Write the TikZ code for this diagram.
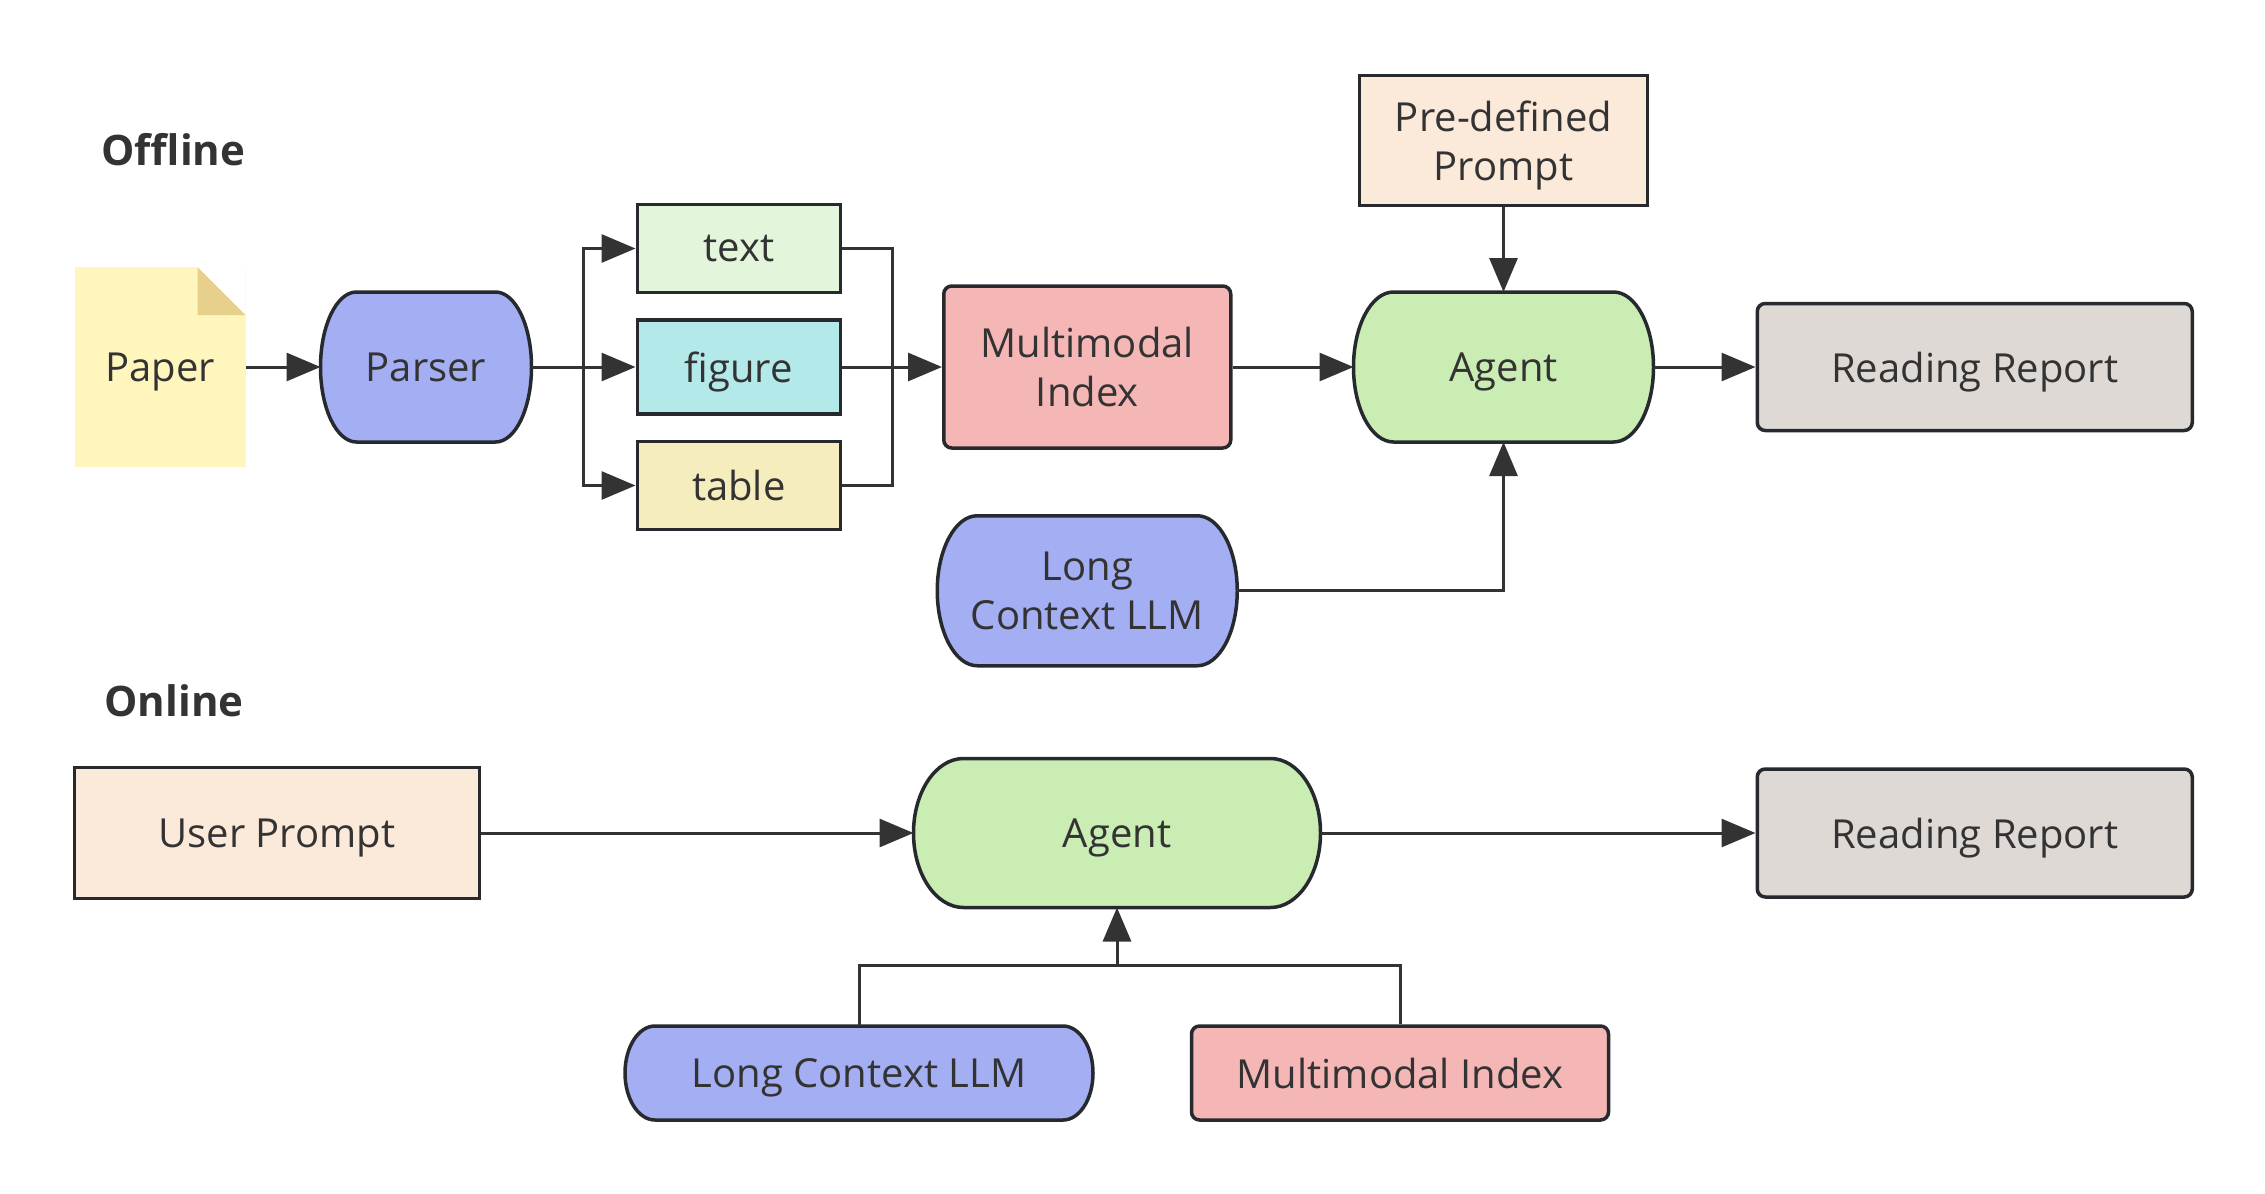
\documentclass[tikz,border=0pt]{standalone}
\usepackage{fontspec}
\setmainfont{Open Sans}
\usetikzlibrary{arrows.meta,positioning,calc,backgrounds}

\definecolor{inkgray}{HTML}{333333}
\definecolor{edgegray}{HTML}{262A2E}
\definecolor{paperyellow}{HTML}{FFF6BE}
\definecolor{paperfold}{HTML}{E6D08C}
\definecolor{parserblue}{HTML}{A4AEF2}
\definecolor{textgreen}{HTML}{E3F5DB}
\definecolor{figurecyan}{HTML}{B4E9E9}
\definecolor{tableyellow}{HTML}{F6EDBF}
\definecolor{indexred}{HTML}{F4B7B6}
\definecolor{agentgreen}{HTML}{CAEDB3}
\definecolor{promptpeach}{HTML}{FBE9DA}
\definecolor{reportgray}{HTML}{DFD9D6}

% outline with bowed sides, drawn behind a named node: node, fill, side depth
\newcommand{\termshape}[3]{%
  \draw[edgegray, line width=1.75pt, fill=#2]
    let \p1=(#1.north west), \p2=(#1.south east), \n1={(\y1-\y2)/2} in
    (\x1+#3,\y1) -- (\x2-#3,\y1)
    arc[start angle=90, end angle=-90, x radius=#3, y radius=\n1]
    -- (\x1+#3,\y2)
    arc[start angle=270, end angle=90, x radius=#3, y radius=\n1] -- cycle;}

\begin{document}
\begin{tikzpicture}[
  x=0.5pt, y=-0.5pt,
  font=\fontsize{20}{24.5}\selectfont, text=inkgray,
  every node/.append style={text depth=-3pt},
  box/.style={rectangle, draw=edgegray, line width=1.75pt, align=center, inner sep=2pt},
  roundbox/.style={box, rounded corners=4pt},
  terminal/.style={rectangle, outer sep=0pt, align=center, inner sep=2pt},
  paper/.style={rectangle, fill=paperyellow, outer sep=0pt,
    minimum width=85.5pt, minimum height=100pt,
    path picture={
      \coordinate (ne) at (path picture bounding box.north east);
      \fill[white] ($(ne)+(-24pt,0)$) -- (ne) -- ($(ne)+(0,-24pt)$) -- cycle;
      \fill[paperfold] ($(ne)+(-24pt,0)$) -- ($(ne)+(-24pt,-24pt)$) -- ($(ne)+(0,-24pt)$) -- cycle;}},
  phasetitle/.style={anchor=west, inner xsep=0pt, font=\fontsize{21}{25}\selectfont\bfseries},
  link/.style={draw=inkgray, line width=1.5pt},
  arrow/.style={link, -{Triangle[length=17pt, width=14pt]}},
]
  \useasboundingbox (0,0) rectangle (2265,1194);

  % offline
  \node[phasetitle] (offline) at (101,149) {Offline};
  \node[paper] (paper) at (160,367) {Paper};
  \node[terminal, minimum width=105.5pt, minimum height=75pt, right=37.5pt of paper] (parser) {Parser};
  \node[box, fill=figurecyan, minimum width=101.5pt, minimum height=47pt, right=52pt of parser] (figure) {figure};
  \node[box, fill=textgreen, minimum width=101.5pt, minimum height=44pt, above=12pt of figure] (text) {text};
  \node[box, fill=tableyellow, minimum width=101.5pt, minimum height=44pt, below=12pt of figure] (table) {table};
  \node[roundbox, fill=indexred, minimum width=143.5pt, minimum height=81pt, right=50pt of figure] (index) {Multimodal\\Index};
  \node[terminal, minimum width=150pt, minimum height=75pt, right=60.5pt of index] (agent) {Agent};
  \node[box, fill=promptpeach, minimum width=144pt, minimum height=65pt, above=42.5pt of agent] (predef) {Pre-defined\\Prompt};
  \node[roundbox, fill=reportgray, minimum width=217.5pt, minimum height=63.5pt, right=51pt of agent] (report) {Reading Report};
  \node[terminal, minimum width=150pt, minimum height=75pt, below=33pt of index] (llm) {Long\\Context LLM};

  % online
  \node[phasetitle] (online) at (104,701) {Online};
  \node[box, fill=promptpeach, minimum width=202.5pt, minimum height=65.5pt] (user) at (277,833) {User Prompt};
  \node[terminal, minimum width=203.5pt, minimum height=74.5pt] (agent2) at (1117,833) {Agent};
  \node[roundbox, fill=reportgray, minimum width=217.5pt, minimum height=64pt] (report2) at (report |- agent2) {Reading Report};
  \node[terminal, minimum width=234pt, minimum height=47pt] (llm2) at (859,1073) {Long Context LLM};
  \node[roundbox, fill=indexred, minimum width=208.5pt, minimum height=47pt] (index2) at (1400,1073) {Multimodal Index};

  \begin{scope}[on background layer]
    \termshape{parser}{parserblue}{18pt}
    \termshape{agent}{agentgreen}{20pt}
    \termshape{llm}{parserblue}{20pt}
    \termshape{agent2}{agentgreen}{25pt}
    \termshape{llm2}{parserblue}{15pt}
  \end{scope}

  \coordinate (fork) at ($(parser.east)!0.5!(figure.west)$);
  \coordinate (merge) at ($(figure.east)!0.5!(index.west)$);
  \coordinate (join) at ($(agent2.south)+(0,58)$);

  \draw[arrow] (paper) -- (parser);
  \draw[arrow] (parser) -- (figure);
  \draw[arrow] (fork) |- (text);
  \draw[arrow] (fork) |- (table);
  \draw[link] (text) -| (merge) |- (table);
  \draw[arrow] (figure) -- (index);
  \draw[arrow] (index) -- (agent);
  \draw[arrow] (predef) -- (agent);
  \draw[arrow] (agent) -- (report);
  \draw[arrow] (llm) -| (agent);

  \draw[arrow] (user) -- (agent2);
  \draw[arrow] (agent2) -- (report2);
  \draw[link] (llm2) |- (join) -| (index2);
  \draw[arrow] (join) -- (agent2);
\end{tikzpicture}
\end{document}
